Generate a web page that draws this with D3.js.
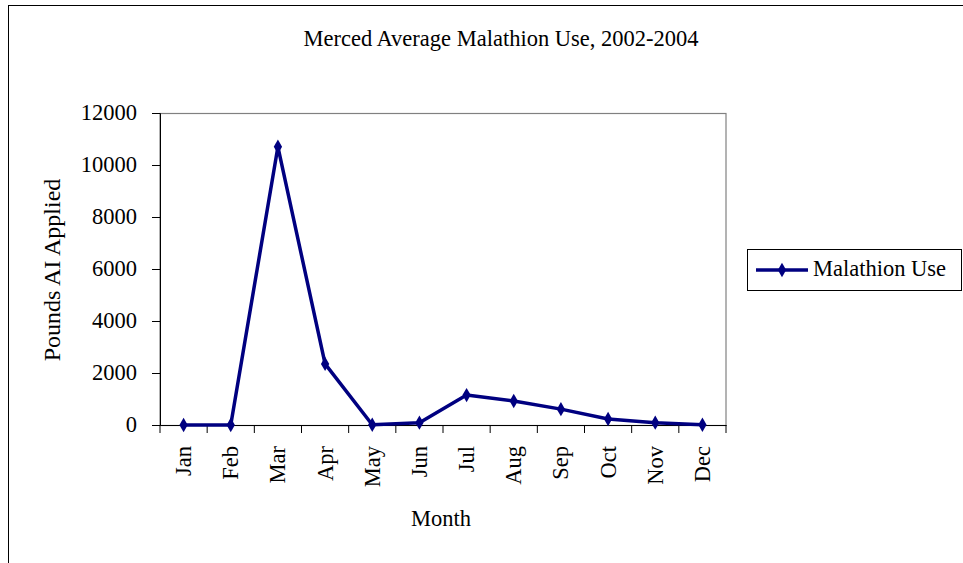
<!DOCTYPE html>
<html><head><meta charset="utf-8">
<script src="https://cdn.jsdelivr.net/npm/d3@7"></script>
<style>body{margin:0;background:#fff}svg{display:block}text{font-family:"Liberation Serif","Times New Roman",serif;fill:#000}</style>
</head><body><svg id="c" width="963" height="563"></svg>
<script>
const months = ["Jan","Feb","Mar","Apr","May","Jun","Jul","Aug","Sep","Oct","Nov","Dec"];
const malathionUse = [0, 0, 10700, 2350, 10, 90, 1150, 920, 610, 230, 90, 10];
const yTicks = [0, 2000, 4000, 6000, 8000, 10000, 12000];
const title = "Merced Average Malathion Use, 2002-2004";
const seriesName = "Malathion Use";

const FS = "22.5px";
const svg = d3.select("#c");
svg.append("rect").attr("x",8.5).attr("y",5.5).attr("width",1000).attr("height",1000)
  .attr("fill","#fff").attr("stroke","#000").attr("stroke-width",1);

const L=160, R=726, T=113, B=425;
const x = d3.scaleBand().domain(months).range([L,R]);
const y = d3.scaleLinear().domain([0,12000]).range([B,T]);

// plot border
svg.append("rect").attr("x",L).attr("y",T+0.5).attr("width",R-L).attr("height",B-T)
  .attr("fill","none").attr("stroke","#808080").attr("stroke-width",1.2);

// y axis
const ya = svg.append("g").attr("transform",`translate(${L},0)`)
  .call(d3.axisLeft(y).tickValues(yTicks).tickSize(8).tickPadding(15).tickFormat(d3.format("d")));
ya.select(".domain").attr("stroke","#000");
ya.selectAll(".tick line").attr("stroke","#000");
ya.selectAll("text").style("font-size",FS).style("font-family","Liberation Serif").attr("dy","0.3em");

// x axis
const xa = svg.append("g").attr("transform",`translate(0,${B})`)
  .call(d3.axisBottom(x).tickSize(0).tickFormat(d=>d));
xa.select(".domain").attr("stroke","#000");
xa.selectAll(".tick line").remove();
xa.selectAll(".tick text").attr("transform","rotate(-90)").attr("text-anchor","end")
  .attr("x",-21).attr("y",0).attr("dy","0.33em")
  .style("font-size",FS).style("font-family","Liberation Serif");
// tick marks between categories
const bounds = months.map(m=>x(m)).concat([R]);
svg.append("g").selectAll("line").data(bounds).join("line")
  .attr("x1",d=>d).attr("x2",d=>d).attr("y1",B).attr("y2",B+8).attr("stroke","#000");

// line
const cx = d => x(d)+x.bandwidth()/2;
const line = d3.line().x((d,i)=>cx(months[i])).y(d=>y(d));
svg.append("path").datum(malathionUse).attr("d",line).attr("fill","none")
  .attr("stroke","#000080").attr("stroke-width",3.5).attr("stroke-linejoin","round");
const diamond = d3.symbol().type(d3.symbolDiamond).size(60);
svg.append("g").selectAll("path").data(malathionUse).join("path")
  .attr("d",diamond).attr("fill","#000080")
  .attr("transform",(d,i)=>`translate(${cx(months[i])},${y(d)})`);

// titles
svg.append("text").attr("x",501).attr("y",46).attr("text-anchor","middle").style("font-size",FS).text(title);
svg.append("text").attr("transform","translate(60,270) rotate(-90)").attr("text-anchor","middle").style("font-size","24px").text("Pounds AI Applied");
svg.append("text").attr("x",441).attr("y",526).attr("text-anchor","middle").style("font-size",FS).text("Month");

// legend
svg.append("rect").attr("x",747.5).attr("y",249.5).attr("width",214).attr("height",41)
  .attr("fill","#fff").attr("stroke","#000");
svg.append("line").attr("x1",756).attr("x2",808).attr("y1",270).attr("y2",270)
  .attr("stroke","#000080").attr("stroke-width",3.5);
svg.append("path").attr("d",diamond).attr("fill","#000080").attr("transform","translate(782,270)");
svg.append("text").attr("x",813).attr("y",276).style("font-size",FS).text(seriesName);
</script></body></html>
